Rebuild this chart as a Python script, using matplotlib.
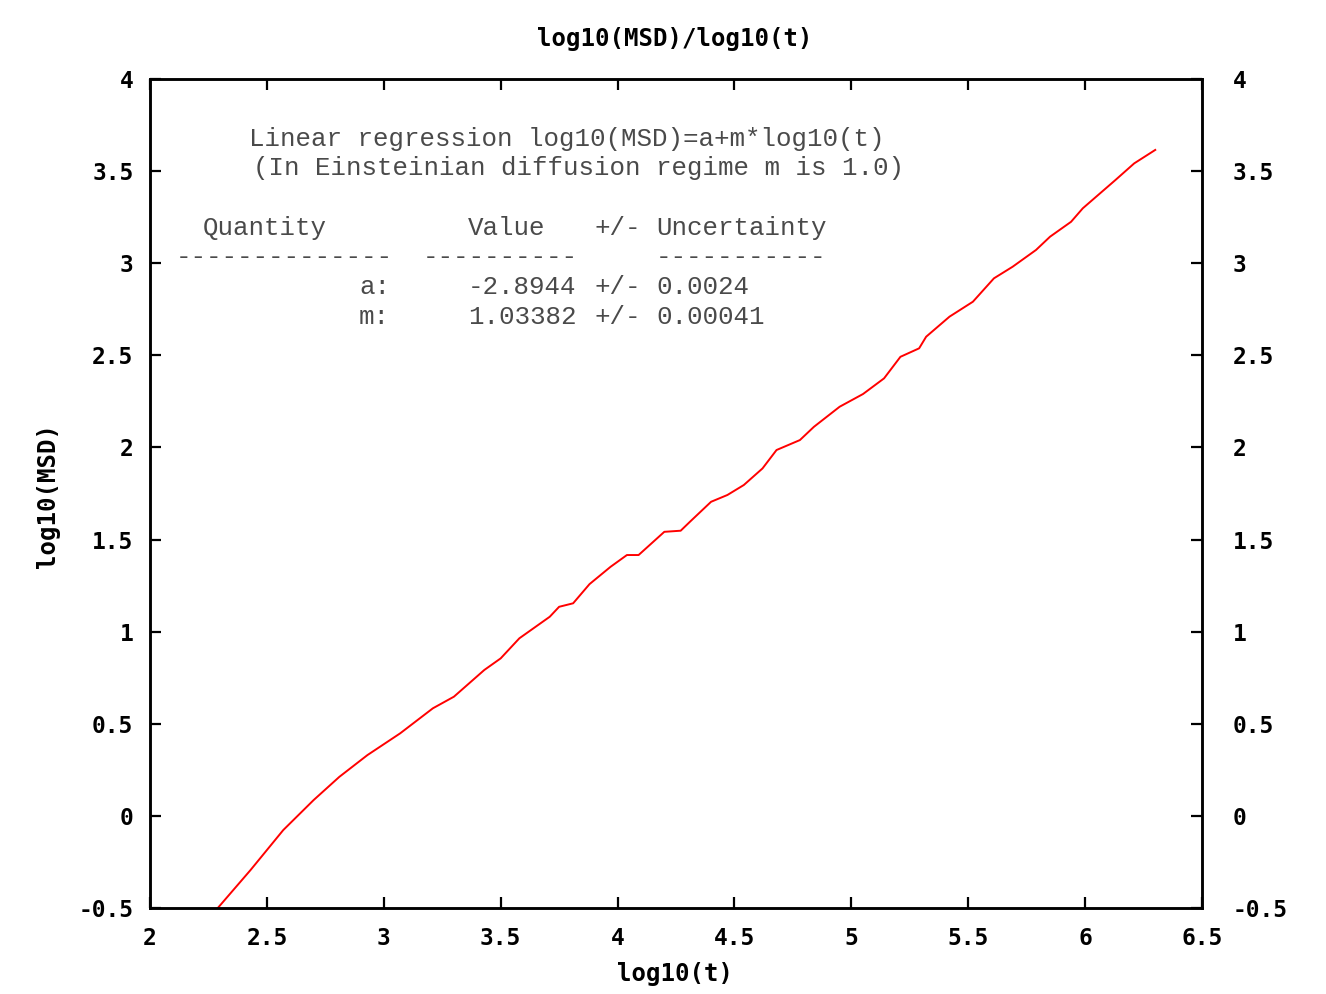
import matplotlib
matplotlib.use("Agg")
import matplotlib.pyplot as plt
from matplotlib.ticker import MultipleLocator
from matplotlib.font_manager import FontProperties

# Data
log_t = [2.29, 2.43, 2.57, 2.70, 2.81, 2.93, 3.07, 3.21, 3.30, 3.43, 3.50, 3.58,
         3.71, 3.75, 3.81, 3.88, 3.97, 4.04, 4.09, 4.20, 4.27, 4.31, 4.40, 4.47,
         4.54, 4.62, 4.68, 4.78, 4.84, 4.95, 5.05, 5.14, 5.21, 5.29, 5.32, 5.42,
         5.52, 5.61, 5.69, 5.79, 5.85, 5.94, 5.99, 6.08, 6.13, 6.21, 6.30]
log_msd = [-0.50, -0.294, -0.077, 0.086, 0.212, 0.33, 0.448, 0.584, 0.647, 0.792,
           0.855, 0.964, 1.081, 1.135, 1.154, 1.258, 1.352, 1.416, 1.416, 1.542,
           1.548, 1.597, 1.705, 1.742, 1.796, 1.886, 1.986, 2.04, 2.112, 2.221,
           2.29, 2.375, 2.492, 2.538, 2.601, 2.71, 2.791, 2.918, 2.981, 3.072,
           3.144, 3.225, 3.298, 3.397, 3.452, 3.542, 3.615]

title = "log10(MSD)/log10(t)"
xlabel = "log10(t)"
ylabel = "log10(MSD)"
header1 = "Linear regression log10(MSD)=a+m*log10(t)"
header2 = "(In Einsteinian diffusion regime m is 1.0)"
fit_names = ["a:", "m:"]
fit_values = ["-2.8944", "1.03382"]
fit_errors = ["0.0024", "0.00041"]

W, H = 1326, 994
fig = plt.figure(figsize=(W / 100, H / 100), dpi=100)
L, R, T, B = 150, 1202, 79, 908
ax = fig.add_axes([L / W, 1 - B / H, (R - L) / W, (B - T) / H])

ax.plot(log_t, log_msd, color="#ff0000", lw=1.4)
ax.set_xlim(2, 6.5)
ax.set_ylim(-0.5, 4)

tick_fp = FontProperties(family="DejaVu Sans Mono", weight="bold", size=16.5)
fmt = plt.FuncFormatter(lambda v, p: "%g" % v)

ax.xaxis.set_major_locator(MultipleLocator(0.5))
ax.yaxis.set_major_locator(MultipleLocator(0.5))
ax.xaxis.set_major_formatter(fmt)
ax.yaxis.set_major_formatter(fmt)
ax.tick_params(axis="both", which="major", direction="in", length=8, width=1.6,
               top=True, right=True, color="black")
ax.tick_params(axis="x", pad=14)
ax.tick_params(axis="y", pad=12)
for sp in ax.spines.values():
    sp.set_linewidth(1.8)

# right-side labels
ax2 = ax.twinx()
ax2.set_ylim(ax.get_ylim())
ax2.yaxis.set_major_locator(MultipleLocator(0.5))
ax2.yaxis.set_major_formatter(fmt)
ax2.tick_params(axis="y", direction="in", length=8, width=1.6, pad=22)
for sp in ax2.spines.values():
    sp.set_linewidth(1.8)

fig.canvas.draw()
for a in (ax, ax2):
    for tick in a.yaxis.get_major_ticks():
        tick.label1.set_fontproperties(tick_fp)
        tick.label2.set_fontproperties(tick_fp)
for tick in ax.xaxis.get_major_ticks():
    tick.label1.set_fontproperties(tick_fp)

lab_font = dict(family="DejaVu Sans Mono", weight="bold", fontsize=17.3)
fig.text(675 / W, 1 - 39 / H, title, ha="center", va="center", **lab_font)
fig.text(675 / W, 1 - 974 / H, xlabel, ha="center", va="center", **lab_font)
fig.text(48 / W, 1 - 495 / H, ylabel, ha="center", va="center", rotation=90, **lab_font)

# Fit-result text block (monospace, gray)
tf = dict(family="Liberation Mono", fontsize=18.6, color="#4a4a4a", va="center", ha="left")
def put(px, py, s):
    fig.text(px / W, 1 - py / H, s, **tf)

put(249, 139, header1)
put(253, 168, header2)
put(203, 228, "Quantity")
put(468, 228, "Value")
put(594, 228, "+/-")
put(656, 228, "Uncertainty")
put(176, 257, "-" * 14)
put(423, 257, "-" * 10)
put(656, 257, "-" * 11)
for i, (n, v, e) in enumerate(zip(fit_names, fit_values, fit_errors)):
    y = 287 + 30 * i
    put(359, y, n)
    put(468, y, v)
    put(594, y, "+/-")
    put(656, y, e)

fig.savefig("out.png", dpi=100, facecolor="white")
